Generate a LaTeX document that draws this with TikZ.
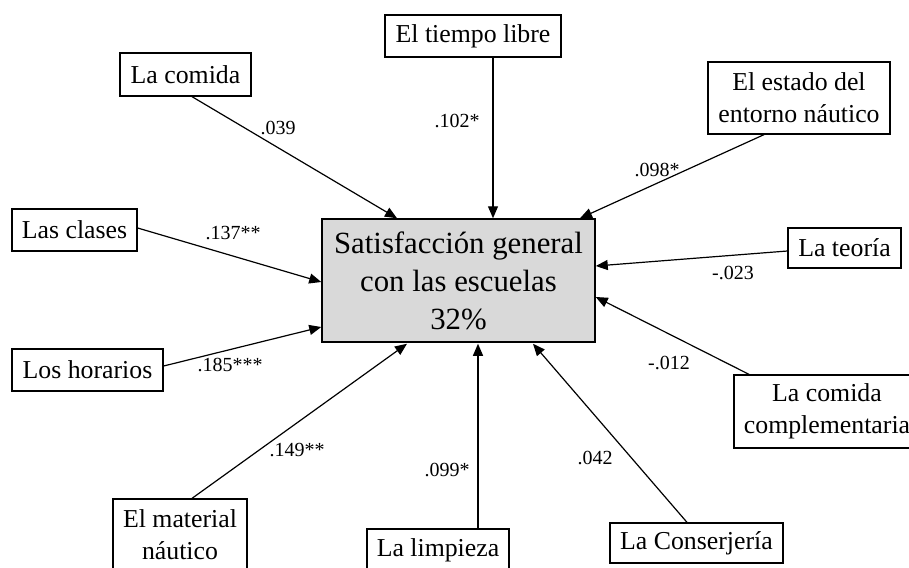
\documentclass[tikz,border=0pt]{standalone}
\usepackage{fontspec}
\setmainfont{Liberation Serif}
\usetikzlibrary{arrows.meta}
\tikzset{
  x=1pt, y=-1pt,
  box/.style={draw=black, line width=1.3pt, inner sep=0pt, align=center,
    font=\fontsize{25.8}{32}\selectfont},
  centre/.style={box, fill=black!15, line width=1.5pt,
    font=\fontsize{30.8}{38}\selectfont},
  lab/.style={inner sep=0pt, font=\fontsize{20}{24}\selectfont},
  arr/.style={line width=1.2pt, -{Triangle[length=12pt,width=10pt]}}
}
\begin{document}
\begin{tikzpicture}
\useasboundingbox (0,0) rectangle (909,567);
\clip (0,0) rectangle (909,567);
\node[centre, minimum width=273pt, minimum height=123pt] (sat) at (458.5,280.5)
  {Satisfacción general\\con las escuelas\\32\%};
\node[box, minimum width=176pt, minimum height=42pt] (tiempo) at (473,36) {El tiempo libre};
\node[box, minimum width=131pt, minimum height=43pt] (comida) at (185.5,74.5) {La comida};
\node[box, minimum width=182pt, minimum height=72pt] (estado) at (799,98) {El estado del\\entorno náutico};
\node[box, minimum width=113pt, minimum height=40pt] (teoria) at (844.5,248) {La teoría};
\node[box, minimum width=125pt, minimum height=42pt] (clases) at (74.5,230) {Las clases};
\node[box, minimum width=151pt, minimum height=42pt] (horarios) at (87.5,370) {Los horarios};
\node[box, minimum width=134pt, minimum height=72pt] (material) at (180,535) {El material\\náutico};
\node[box, minimum width=142pt, minimum height=42pt] (limpieza) at (438,550) {La limpieza};
\node[box, minimum width=173pt, minimum height=40pt] (conser) at (696.5,543) {La Conserjería};
\node[box, minimum width=186pt, minimum height=73pt] (comp) at (827,411.5) {La comida\\complementaria};

\draw[arr] ([xshift=6.5pt]comida.south) -- ([xshift=-61.5pt]sat.north);
\draw[arr] ([xshift=20pt]tiempo.south) -- ([xshift=34.5pt]sat.north);
\draw[arr] ([xshift=-35pt]estado.south) -- ([xshift=121.5pt]sat.north);
\draw[arr] ([yshift=-3pt]teoria.west) -- ([yshift=14.5pt]sat.east);
\draw[arr] ([xshift=-78pt]comp.north) -- ([yshift=-16.5pt]sat.east);
\draw[arr] ([yshift=2pt]clases.east) -- ([yshift=-1.5pt]sat.west);
\draw[arr] ([yshift=4pt]horarios.east) -- ([yshift=-46.5pt]sat.west);
\draw[arr] ([xshift=12pt]material.north) -- ([xshift=-51.5pt,yshift=-1pt]sat.south);
\draw[arr] ([xshift=40pt]limpieza.north) -- ([xshift=19.5pt,yshift=-1pt]sat.south);
\draw[arr] ([xshift=-9.5pt]conser.north) -- ([xshift=74.5pt,yshift=-1pt]sat.south);

\node[lab] (l1) at (278,128) {.039};
\node[lab] (l2) at (457,121) {.102*};
\node[lab] (l3) at (657,170) {.098*};
\node[lab] (l4) at (733,273) {-.023};
\node[lab] (l5) at (233,233) {.137**};
\node[lab] (l6) at (230,365) {.185***};
\node[lab] (l7) at (297,450) {.149**};
\node[lab] (l8) at (447,470) {.099*};
\node[lab] (l9) at (595,458) {.042};
\node[lab] (l10) at (669,363) {-.012};
\end{tikzpicture}
\end{document}
